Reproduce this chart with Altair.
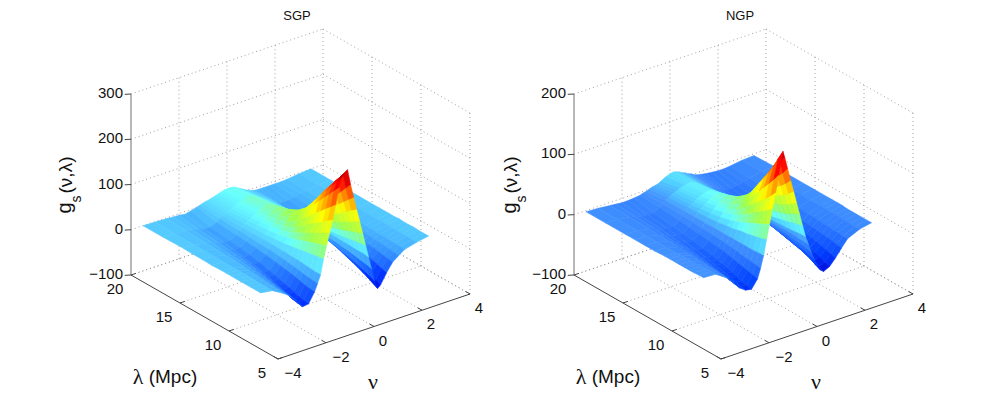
import altair as alt
import pandas as pd

nu_l = [-3.5,-3,-2.5,-2.25,-2,-1.75,-1.5,-1.25,-1.125,-1,-.875,-.75,-.625,-.5,-.375,-.25,-.125,0,.125,.25,.375,.5,.625,.75,.875,1,1.125,1.25,1.375,1.5,1.75,2,2.25,2.5,3,3.5]
nu_r = [-3.5,-3,-2.5,-2.25,-2,-1.75,-1.5,-1.25,-1.125,-1,-.875,-.75,-.625,-.5,-.375,-.19,-.125,0,.125,.25,.375,.5,.625,.75,.875,1,1.125,1.25,1.375,1.5,1.75,2,2.25,2.5,3,3.5]
lam = [8,8.5,9,9.5,10,10.5,11,11.5,12,13,14,15,16,18,20]

sgp = [
[0,-4,-20,-30,-44,-62,-60,-38,-22,-5, 28,55,80,107,138,173,193,202,207,172,142,113,85,56,27,-2, -30,-59,-78,-72,-50,-31,-21,-12,-5,0],
[0,-4,-19,-29,-43,-60,-58,-37,-21,-5, 26,51,74,99,127,160,177,186,190,158,131,105,78,51,25,0, -27,-54,-72,-67,-46,-29,-19,-11,-5,0],
[0,-4,-18,-28,-41,-58,-56,-35,-20,-4, 24,47,68,90,117,146,162,171,174,144,120,96,71,47,23,0, -25,-50,-66,-61,-42,-27,-18,-11,-4,0],
[0,-4,-17,-26,-38,-54,-52,-32,-18,-3, 22,43,62,82,106,133,147,155,158,131,109,87,65,43,21,0, -23,-46,-61,-57,-39,-25,-17,-10,-4,1],
[0,-3,-16,-24,-36,-50,-48,-29,-16,-2, 20,39,56,75,96,120,132,139,142,118,98,78,58,38,19,1, -21,-42,-56,-52,-36,-23,-16,-10,-4,0],
[0,-3,-15,-22,-33,-46,-45,-27,-14,-1, 18,35,50,66,84,105,116,122,124,104,86,69,51,34,17,1, -19,-39,-52,-48,-34,-22,-15,-9,-4,0],
[0,-3,-14,-21,-31,-43,-42,-25,-13,-1, 16,31,44,57,73,91,100,105,107,90,75,60,45,30,15,1, -18,-36,-48,-45,-32,-21,-14,-9,-3,1],
[0,-3,-13,-19,-28,-39,-39,-23,-11,0, 14,27,38,49,62,77,85,89,90,77,64,52,39,26,13,1, -16,-33,-44,-41,-29,-19,-13,-8,-3,0],
[0,-3,-12,-18,-26,-36,-36,-21,-10,0, 12,23,32,41,52,64,71,74,75,65,55,44,33,22,12,1, -15,-30,-40,-38,-27,-18,-12,-8,-3,0],
[-1,-3,-10,-15,-22,-31,-30,-18,-8,1, 10,18,25,31,39,47,53,55,56,50,42,34,26,17,9,2, -13,-26,-34,-32,-24,-16,-11,-7,-3,0],
[0,-3,-9,-14,-19,-27,-26,-15,-7,1, 8,15,21,26,32,38,42,44,45,41,35,28,21,14,8,2, -11,-22,-29,-27,-22,-15,-10,-7,-3,0],
[0,-2,-8,-12,-17,-23,-22,-13,-5,1, 7,13,18,22,27,32,35,37,38,35,30,24,18,12,7,2, -9,-19,-25,-23,-20,-14,-9,-6,-2,0],
[1,-2,-7,-10,-14,-19,-19,-11,-4,1, 6,11,15,18,22,26,29,31,32,30,26,20,15,10,6,2, -8,-16,-21,-20,-17,-12,-9,-6,-2,0],
[0,-2,-5,-7,-10,-14,-14,-8,-2,2, 5,8,11,14,17,20,22,24,25,24,21,16,12,8,5,2, -5,-11,-15,-14,-13,-10,-7,-5,-2,0],
[0,-1,-2,-3,-4,-6,-3,1,3,5, 7,8,10,12,14,16,18,19,19,18,15,11,7,3,0,-3, -5,-6,-6,-6,-6,-6,-6,-5,-2,0],
]
ngp = [
[0,-1,-14,-25,-37,-44,-46,-32,-16,3, 28,52,76,100,128,165,155,134,113,93,72,52,31,11,-4,-19, -33,-45,-53,-57,-52,-41,-28,-16,-7,-3],
[0,-1,-13,-24,-35,-42,-44,-30,-15,3, 25,47,68,90,115,148,140,122,103,85,66,48,29,11,-3,-17, -30,-41,-49,-53,-49,-39,-27,-16,-7,-3],
[-1,-1,-13,-22,-33,-40,-42,-28,-14,2, 23,43,62,81,104,130,133,112,95,77,60,43,27,10,-3,-15, -27,-37,-44,-48,-45,-36,-25,-15,-7,-3],
[-1,-2,-12,-21,-31,-38,-39,-26,-13,2, 21,39,56,73,93,114,118,103,88,72,55,39,24,9,-2,-14, -25,-34,-41,-44,-42,-34,-24,-15,-6,-3],
[-1,-2,-12,-20,-29,-35,-36,-24,-12,2, 19,35,50,65,82,100,104,95,82,67,52,36,22,8,-2,-13, -23,-32,-38,-41,-39,-32,-23,-14,-6,-3],
[-1,-2,-11,-19,-27,-33,-33,-22,-10,2, 18,31,44,57,72,86,90,86,75,62,48,33,20,8,-2,-12, -21,-30,-36,-38,-37,-30,-22,-14,-6,-3],
[-1,-2,-11,-18,-26,-31,-31,-20,-9,2, 16,27,38,49,61,72,76,74,66,55,43,30,18,7,-2,-11, -19,-28,-34,-36,-35,-29,-21,-13,-6,-2],
[-1,-2,-10,-17,-24,-29,-29,-18,-8,2, 14,24,33,41,51,60,63,62,56,47,37,26,16,7,-2,-11, -18,-26,-32,-34,-33,-27,-20,-12,-5,-2],
[-1,-3,-10,-16,-23,-27,-27,-17,-7,2, 13,21,29,35,43,50,53,54,49,41,32,23,14,6,-2,-10, -17,-24,-30,-32,-31,-26,-19,-12,-5,-2],
[-2,-3,-9,-14,-20,-24,-24,-15,-6,2, 10,17,23,28,33,38,40,41,38,33,26,19,12,5,-2,-9, -15,-21,-26,-28,-28,-24,-18,-11,-5,-2],
[-2,-3,-8,-13,-18,-21,-21,-13,-5,2, 9,14,19,23,27,31,32,33,31,27,21,15,10,4,-2,-8, -14,-19,-23,-25,-25,-22,-16,-10,-5,-2],
[-2,-3,-8,-12,-16,-18,-18,-11,-4,2, 8,12,16,19,23,26,27,27,26,23,18,13,9,3,-2,-7, -12,-17,-20,-22,-23,-20,-15,-10,-5,-2],
[-2,-3,-7,-10,-14,-16,-16,-9,-3,2, 7,10,13,16,19,21,22,23,22,19,15,11,7,3,-2,-6, -11,-15,-18,-20,-20,-18,-14,-9,-4,-2],
[-2,-3,-6,-8,-11,-12,-12,-6,-2,2, 5,8,10,12,14,16,17,17,17,15,12,8,5,2,-2,-5, -8,-11,-14,-15,-15,-14,-11,-8,-4,-2],
[-2,-3,-5,-6,-7,-7,-6,-5,-3,-2, 0,2,3,4,7,11,12,14,15,14,12,9,7,4,2,-1, -3,-4,-5,-6,-7,-8,-8,-7,-4,-3],
]

nu_ticks = [-4,-2,0,2,4]
lam_ticks = [20,15,10,5]
z_ticks_l = [300,200,100,0,-100]
z_ticks_r = [200,100,0,-100]
col_dom_l = [-85,-60,-30,0,20,50,100,140,175,207]
col_dom_r = [-60,-40,-20,0,12,24,50,85,115,140,165]
col_rng_l = ["#0000d8","#0030ff","#2a80ff","#55ccff","#66ffff","#a0ff50","#ffff00","#ff8000","#ff0000","#800000"]
col_rng_r = ["#0000d8","#0040ff","#2570ff","#4595ff","#50d0ff","#66ffff","#a0ff50","#ffff00","#ff8000","#ff0000","#800000"]

OX, OY = 8, 16

def projector(x0, ztop):
    k = 181.0 / (ztop + 100)
    def p(n, l, z):
        return (x0 + (n + 4) * 24.0 - (l - 5) * 9.8 - OX,
                359 - (n + 4) * 8.125 - (l - 5) * 5.6 - (z + 100) * k - OY)
    return p

pl = projector(278, 300)
pr = projector(721, 200)

def quads(p, nus, grid):
    feats = []
    for i in range(len(lam) - 2, -1, -1):
        for j in range(len(nus) - 2, -1, -1):
            c = [(i, j), (i, j + 1), (i + 1, j + 1), (i + 1, j)]
            pts = [list(p(nus[b], lam[a], grid[a][b])) for a, b in c]
            pts.append(pts[0])
            v = sum(grid[a][b] for a, b in c) / 4
            feats.append({"type": "Feature", "properties": {"v": v},
                          "geometry": {"type": "Polygon", "coordinates": [pts]}})
    return feats

def frames(p, zt):
    zmin, zmax = min(zt), max(zt)
    dots, solid, grey = [], [], []
    def seg(bag, a, b):
        A, B = p(*a), p(*b)
        bag.append({"x": A[0], "y": A[1], "x2": B[0], "y2": B[1]})
    for n in nu_ticks:
        if n != -4:
            seg(dots, (n, 5, zmin), (n, 20, zmin))
            seg(dots, (n, 20, zmin), (n, 20, zmax))
    for l in lam_ticks:
        if l != 5:
            seg(dots, (-4, l, zmin), (4, l, zmin))
        if l != 20:
            seg(dots, (4, l, zmin), (4, l, zmax))
    for z in zt:
        seg(dots, (-4, 20, z), (4, 20, z))
        seg(dots, (4, 20, z), (4, 5, z))
    seg(grey, (-4, 20, zmin), (-4, 20, zmax))
    seg(solid, (-4, 20, zmin), (-4, 5, zmin))
    seg(solid, (-4, 5, zmin), (4, 5, zmin))
    for z in zt:
        seg(solid, (-4, 20, z), (-4.18, 20.2, z))
    for l in lam_ticks:
        seg(solid, (-4, l, zmin), (-3.8, l, zmin))
    for n in nu_ticks:
        seg(solid, (n, 5, zmin), (n, 5.45, zmin))
    return dots, solid, grey

def labels(p, zt):
    zmin = min(zt)
    out = []
    for z in zt:
        A = p(-4, 20, z)
        out.append({"x": A[0] - 8, "y": A[1] - 1, "t": str(z).replace("-", "\u2212"), "a": "right"})
    for l in lam_ticks:
        A = p(-4, l, zmin)
        out.append({"x": A[0] - 16, "y": A[1] + 14, "t": str(l), "a": "center"})
    for n in nu_ticks:
        A = p(n, 5, zmin)
        dx = 15 if n < 0 else 9
        out.append({"x": A[0] + dx, "y": A[1] + 14, "t": str(n).replace("-", "\u2212"), "a": "center"})
    return out

X = alt.X("x:Q", scale=alt.Scale(domain=[0, 992], nice=False, zero=False), axis=None)
Y = alt.Y("y:Q", scale=alt.Scale(domain=[0, 380], reverse=True, nice=False, zero=False), axis=None)

def rules(rows, **kw):
    return alt.Chart(pd.DataFrame(rows)).mark_rule(**kw).encode(x=X, y=Y, x2="x2:Q", y2="y2:Q")

def surface(p, nus, grid, dom, rng):
    sc = alt.Scale(domain=dom, range=rng, interpolate="rgb", clamp=True)
    return (alt.Chart(alt.Data(values=quads(p, nus, grid)))
            .mark_geoshape(strokeWidth=0.5)
            .encode(color=alt.Color("properties.v:Q", scale=sc, legend=None),
                    stroke=alt.Stroke("properties.v:Q", scale=sc, legend=None))
            .project(type="identity", scale=1, translate=[0, 0]))

def text_layer(rows, size, font="Liberation Sans", angle=0):
    out = None
    for a in ("left", "center", "right"):
        sub = [r for r in rows if r.get("a", "center") == a]
        if not sub:
            continue
        c = alt.Chart(pd.DataFrame(sub)).mark_text(align=a, baseline="middle", font=font,
                                                   fontSize=size, angle=angle, color="#111").encode(x=X, y=Y, text="t:N")
        out = c if out is None else out + c
    return out

def at(ix, iy, t):
    return {"x": ix - OX, "y": iy - OY, "t": t}

dl, sl, gl = frames(pl, z_ticks_l)
dr, sr, gr = frames(pr, z_ticks_r)

titles = [at(297, 16, "SGP"), at(740, 16, "NGP")]
xlabs = [at(173, 377, "(Mpc)"), at(616, 377, "(Mpc)")]
lams = [at(138, 377, "\u03bb"), at(581, 377, "\u03bb")]
nus_t = [at(373, 382, "\u03bd"), at(816, 382, "\u03bd")]
gs = [at(65, 208, "g"), at(510, 208, "g")]
ss = [at(77, 199, "s"), at(522, 199, "s")]
par = [at(66, 175, "(\u03bd,\u03bb)"), at(511, 175, "(\u03bd,\u03bb)")]

chart = alt.layer(
    rules(dl + dr, color="#8a8a8a", strokeWidth=0.8, strokeDash=[1, 3]),
    rules(gl + gr, color="#888888", strokeWidth=1.2),
    rules(sl + sr, color="#444444", strokeWidth=1),
    surface(pl, nu_l, sgp, col_dom_l, col_rng_l),
    surface(pr, nu_r, ngp, col_dom_r, col_rng_r),
    text_layer(labels(pl, z_ticks_l) + labels(pr, z_ticks_r), 15),
    text_layer(titles, 13),
    text_layer(xlabs, 19),
    text_layer(lams, 22, font="Liberation Serif"),
    text_layer(nus_t, 22, font="Liberation Serif"),
    text_layer(gs, 20, angle=270),
    text_layer(ss, 14, angle=270),
    text_layer(par, 19, angle=270),
).resolve_scale(color="independent", stroke="independent").properties(
    width=992, height=380, padding={"left": 0, "right": 0, "top": 8, "bottom": 0},
    autosize=alt.AutoSizeParams(type="none")
).configure_view(stroke=None)

chart.save("out.html", embed_options={"renderer": "svg", "actions": False})
